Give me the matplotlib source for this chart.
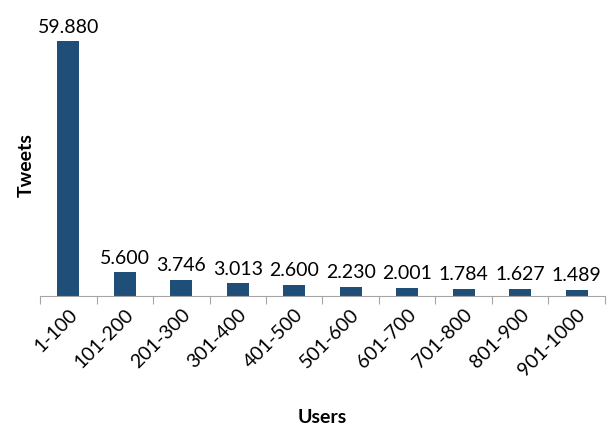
import numpy as np
import matplotlib.pyplot as plt

plt.rcParams['font.family'] = ['Lato', 'DejaVu Sans']

users = ['1-100', '101-200', '201-300', '301-400', '401-500',
         '501-600', '601-700', '701-800', '801-900', '901-1000']
tweets = [59.880, 5.600, 3.746, 3.013, 2.600, 2.230, 2.001, 1.784, 1.627, 1.489]
labels = ['59.880', '5.600', '3.746', '3.013', '2.600',
          '2.230', '2.001', '1.784', '1.627', '1.489']

fig = plt.figure(figsize=(6.09, 4.27), dpi=100)
ax = fig.add_axes([0.066, 0.304, 0.927, 0.618])

x = np.arange(len(users))
ax.bar(x, tweets, width=0.39, color='#1F4E79')

for xi, v, lab in zip(x, tweets, labels):
    ax.text(xi, v + 1.6, lab, ha='center', va='bottom', fontsize=14, clip_on=False)

ax.set_xlim(-0.5, len(users) - 0.5)
ax.set_ylim(0, 62)

# boundary ticks between categories, labels centered under bars
ax.set_xticks(np.arange(-0.5, len(users)), minor=False)
ax.set_xticklabels([])
ax.set_xticks(x, minor=True)
ax.set_xticklabels(users, minor=True, rotation=45, ha='right',
                   rotation_mode='anchor', fontsize=14)
ax.tick_params(axis='x', which='major', length=6, color='#A6A6A6', direction='out')
ax.tick_params(axis='x', which='minor', length=0, pad=6)

ax.set_yticks([])
for side in ['left', 'right', 'top']:
    ax.spines[side].set_visible(False)
ax.spines['bottom'].set_color('#A6A6A6')

ax.set_ylabel('Tweets', fontsize=14, fontweight='bold', labelpad=4)
ax.set_xlabel('Users', fontsize=14, fontweight='bold', labelpad=22)

fig.savefig('out.png', dpi=100)
